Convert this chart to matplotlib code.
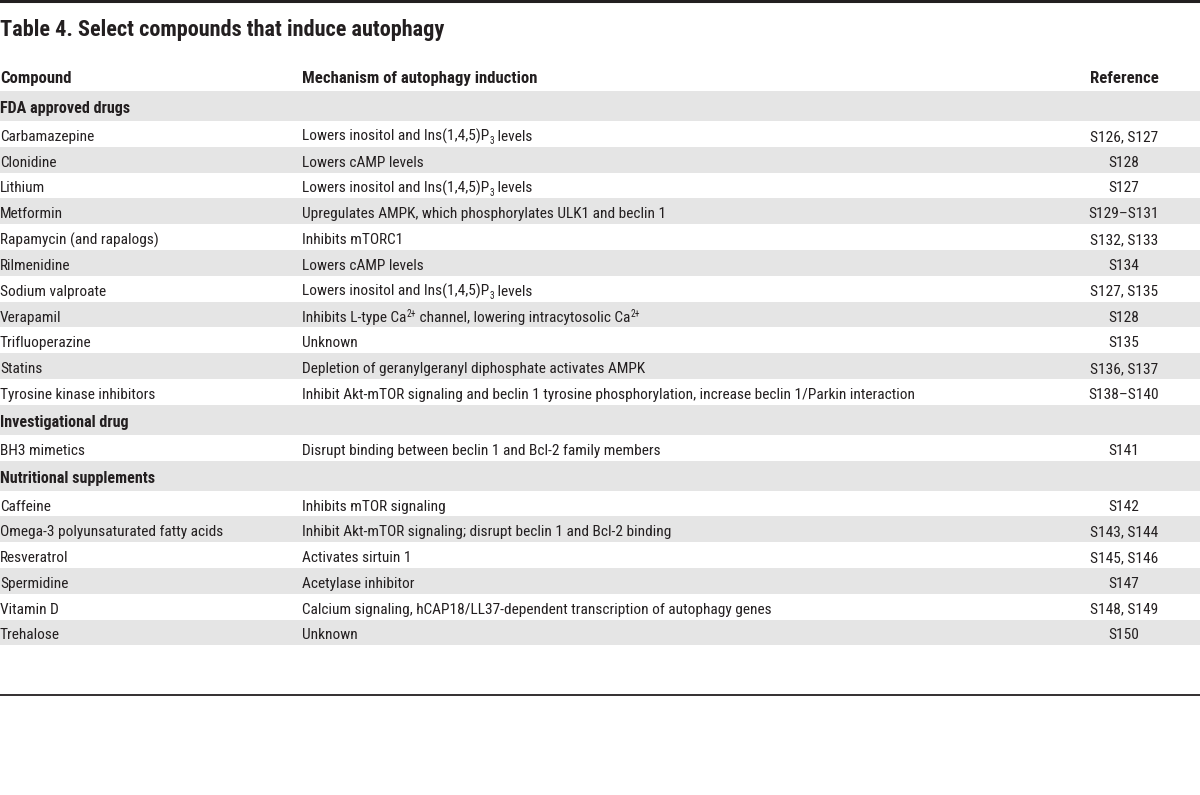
import re
import matplotlib
matplotlib.use("Agg")
import matplotlib.pyplot as plt
from matplotlib import font_manager

# pick a narrow family if there is one
installed = {f.name for f in font_manager.fontManager.ttflist}
family = 'DejaVu Sans'
for name in ['Liberation Sans Narrow', 'DejaVu Sans Condensed', 'Roboto Condensed', 'Open Sans Condensed']:
    if name in installed:
        family = name
        break
plt.rcParams['font.family'] = [family, 'DejaVu Sans']

title = "Table 4. Select compounds that induce autophagy"
headers = ["Compound", "Mechanism of autophagy induction", "Reference"]

# _{..} = subscript, ^{..} = superscript
# (kind, compound, mechanism, reference) ; kind 'g' = group row
rows = [
    ('g', "FDA approved drugs", "", ""),
    ('r', "Carbamazepine", "Lowers inositol and Ins(1,4,5)P_{3} levels", "S126, S127"),
    ('r', "Clonidine", "Lowers cAMP levels", "S128"),
    ('r', "Lithium", "Lowers inositol and Ins(1,4,5)P_{3} levels", "S127"),
    ('r', "Metformin", "Upregulates AMPK, which phosphorylates ULK1 and beclin 1", "S129\u2013S131"),
    ('r', "Rapamycin (and rapalogs)", "Inhibits mTORC1", "S132, S133"),
    ('r', "Rilmenidine", "Lowers cAMP levels", "S134"),
    ('r', "Sodium valproate", "Lowers inositol and Ins(1,4,5)P_{3} levels", "S127, S135"),
    ('r', "Verapamil", "Inhibits L-type Ca^{2+} channel, lowering intracytosolic Ca^{2+}", "S128"),
    ('r', "Trifluoperazine", "Unknown", "S135"),
    ('r', "Statins", "Depletion of geranylgeranyl diphosphate activates AMPK", "S136, S137"),
    ('r', "Tyrosine kinase inhibitors", "Inhibit Akt-mTOR signaling and beclin 1 tyrosine phosphorylation, increase beclin 1/Parkin interaction", "S138\u2013S140"),
    ('g', "Investigational drug", "", ""),
    ('r', "BH3 mimetics", "Disrupt binding between beclin 1 and Bcl-2 family members", "S141"),
    ('g', "Nutritional supplements", "", ""),
    ('r', "Caffeine", "Inhibits mTOR signaling", "S142"),
    ('r', "Omega-3 polyunsaturated fatty acids", "Inhibit Akt-mTOR signaling; disrupt beclin 1 and Bcl-2 binding", "S143, S144"),
    ('r', "Resveratrol", "Activates sirtuin 1", "S145, S146"),
    ('r', "Spermidine", "Acetylase inhibitor", "S147"),
    ('r', "Vitamin D", "Calcium signaling, hCAP18/LL37-dependent transcription of autophagy genes", "S148, S149"),
    ('r', "Trehalose", "Unknown", "S150"),
]

W, H = 1200, 795
fig = plt.figure(figsize=(W / 100, H / 100), dpi=100)
ax = fig.add_axes([0, 0, 1, 1])
ax.set_xlim(0, W)
ax.set_ylim(H, 0)
ax.axis('off')
renderer = fig.canvas.get_renderer()

txt = '#231f20'
band = '#e5e5e5'
fs = 11.1


def text_width(s, size):
    # pad with 'a' so spaces at the ends count too
    t1 = ax.text(0, 0, 'a' + s + 'a', fontsize=size)
    t2 = ax.text(0, 0, 'aa', fontsize=size)
    w = t1.get_window_extent(renderer).width - t2.get_window_extent(renderer).width
    t1.remove()
    t2.remove()
    return w


def rich_text(x, base, s, size):
    parts = re.split(r'([_^]\{[^}]*\})', s)
    for p in parts:
        if not p:
            continue
        if p[0] in '_^':
            inner = p[2:-1]
            small = size * 0.62
            dy = 3.5 if p[0] == '_' else -5.0
            ax.text(x, base + dy, inner, fontsize=small, color=txt, va='baseline', ha='left')
            x += text_width(inner, small)
        else:
            ax.text(x, base, p, fontsize=size, color=txt, va='baseline', ha='left')
            x += text_width(p, size)


# rules
ax.axhline(1, color='#231f20', lw=2.2)
ax.axhline(695, color='#231f20', lw=1.3)

ax.text(0, 36, title, fontsize=16, fontweight='bold', color=txt, va='baseline', ha='left')

col_x = [0, 302, 1124]
ax.text(col_x[0], 83, headers[0], fontsize=fs + 1, fontweight='bold', color=txt, va='baseline', ha='left')
ax.text(col_x[1], 83, headers[1], fontsize=fs + 1, fontweight='bold', color=txt, va='baseline', ha='left')
ax.text(col_x[2], 83, headers[2], fontsize=fs + 1, fontweight='bold', color=txt, va='baseline', ha='center')

y = 91
stripe = False
for kind, comp, mech, ref in rows:
    if kind == 'g':
        h = 30
        ax.axhspan(y, y + h, color=band, lw=0, zorder=0)
        ax.text(col_x[0], y + h / 2 + 7, comp, fontsize=fs + 0.5, fontweight='bold', color=txt, va='baseline', ha='left')
        stripe = False
    else:
        h = 25.8
        if stripe:
            ax.axhspan(y, y + h, color=band, lw=0, zorder=0)
        base = y + h / 2 + 7
        ax.text(col_x[0], base, comp, fontsize=fs, color=txt, va='baseline', ha='left')
        rich_text(col_x[1], base, mech, fs)
        ax.text(col_x[2], base, ref, fontsize=fs, color=txt, va='baseline', ha='center')
        stripe = not stripe
    y += h

fig.savefig('out.png', dpi=100)
